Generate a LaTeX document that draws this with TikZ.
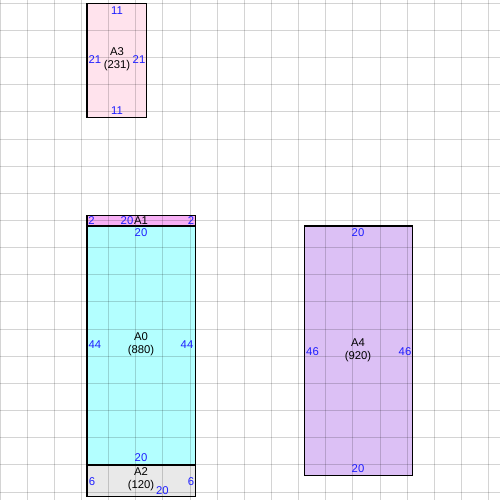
\documentclass[tikz,border=0pt]{standalone}
\usepackage{fontspec}
\setmainfont{Liberation Sans}
\definecolor{cAthree}{HTML}{FFE3ED}
\definecolor{cAone}{HTML}{F7B0F5}
\definecolor{cAzero}{HTML}{B3FFFF}
\definecolor{cAtwo}{HTML}{E9E9E9}
\definecolor{cAfour}{HTML}{DCC0F5}
\definecolor{dimblue}{HTML}{1E1EFF}
\begin{document}
\begin{tikzpicture}[x=1pt,y=-1pt,
  box/.style={draw=black,line width=1.2pt,inner sep=0pt,outer sep=0pt,anchor=north west},
  gridline/.style={draw=black,draw opacity=0.17,line width=1pt},
  dim/.style={text=dimblue,inner sep=0pt,font=\fontsize{11.3}{12.5}\selectfont},
  areaname/.style={text=black,inner sep=0pt,align=center,font=\fontsize{11.3}{12.8}\selectfont}]
\useasboundingbox (0,0) rectangle (500,500);
\fill[white] (0,0) rectangle (500,500);
% boxes
\node[box,fill=cAthree,minimum width=59.7pt,minimum height=114pt] (A3) at (86.9,3.3) {};
\node[box,fill=cAone,minimum width=108.6pt,minimum height=10.8pt] (A1) at (86.9,215.1) {};
\node[box,fill=cAzero,minimum width=108.6pt,minimum height=239pt] (A0) at (86.9,225.9) {};
\node[box,fill=cAtwo,minimum width=108.6pt,minimum height=31.5pt] (A2) at (86.9,464.9) {};
\node[box,fill=cAfour,minimum width=108.6pt,minimum height=249.8pt] (A4) at (304.1,225.9) {};
% grid
\foreach \i in {0,...,18}{
  \draw[gridline] (\i*27.15,0) -- (\i*27.15,500);
  \draw[gridline] (0,3.3+\i*27.15) -- (500,3.3+\i*27.15);
}
% A3 labels
\node[dim] (a3t) at (117,10.5) {11};
\node[dim] (a3b) at (117,111) {11};
\node[dim] (a3l) at (95,60) {21};
\node[dim] (a3r) at (139,60) {21};
\node[areaname] (a3n) at (117,59) {A3\\(231)};
% A1 labels
\node[dim] (a1l) at (91.5,220.5) {2};
\node[dim] (a1t) at (127,221) {20};
\node[areaname] (a1n) at (141,220.5) {A1};
\node[dim] (a1r) at (191,220.5) {2};
% A0 labels
\node[dim] (a0t) at (141,233) {20};
\node[dim] (a0l) at (95,345) {44};
\node[dim] (a0r) at (187,345) {44};
\node[areaname] (a0n) at (141,344) {A0\\(880)};
\node[dim] (a0b) at (141,457.3) {20};
% A2 labels
\node[areaname] (a2n) at (141,479.5) {A2\\(120)};
\node[dim] (a2b) at (162.3,490.3) {20};
\node[dim] (a2l) at (92,481.7) {6};
\node[dim] (a2r) at (191,481.7) {6};
% A4 labels
\node[dim] (a4t) at (358,233) {20};
\node[dim] (a4l) at (312.5,351.3) {46};
\node[dim] (a4r) at (405,351.3) {46};
\node[areaname] (a4n) at (358,350) {A4\\(920)};
\node[dim] (a4b) at (358,469) {20};
\end{tikzpicture}
\end{document}
